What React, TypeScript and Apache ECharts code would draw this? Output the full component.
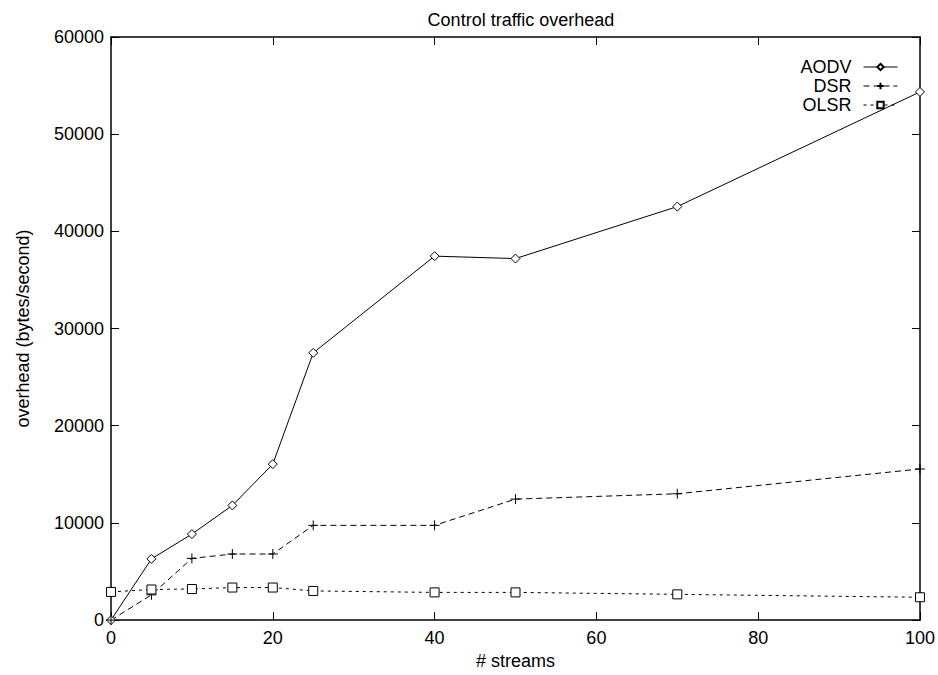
import React, { useEffect, useRef } from "react";
import * as echarts from "echarts";

const streams = [0, 5, 10, 15, 20, 25, 40, 50, 70, 100];
const aodv = [0, 6300, 8850, 11800, 16050, 27500, 37450, 37200, 42550, 54350];
const dsr = [0, 2600, 6350, 6800, 6800, 9750, 9750, 12450, 13000, 15550];
const olsr = [2900, 3150, 3200, 3350, 3350, 3000, 2850, 2850, 2650, 2350];
const seriesNames = ["AODV", "DSR", "OLSR"];
const titleText = "Control traffic overhead";
const xName = "# streams";
const yName = "overhead (bytes/second)";

const FONT = "'Liberation Sans', Arial, Helvetica, sans-serif";
const DIAMOND = "path://M5 0L10 5L5 10L0 5Z";
const PLUS = "path://M0 5L10 5M5 0L5 10";
const SQUARE = "path://M0 0L10 0L10 10L0 10Z";

export default function App() {
  const ref = useRef<HTMLDivElement>(null);
  useEffect(() => {
    if (!ref.current) return;
    const chart = echarts.init(ref.current, undefined, { renderer: "svg" });
    const pts = (ys: number[]) => streams.map((x, i) => [x, ys[i]]);
    const axisLine = { show: true, onZero: false, lineStyle: { color: "#000", width: 1.5 } };
    const tick = { show: true, inside: true, length: 8, lineStyle: { color: "#000", width: 1 } };
    const label = { color: "#000", fontSize: 18, fontFamily: FONT };
    const markStyle = { color: "#fff", borderColor: "#000", borderWidth: 1 };
    chart.setOption({
      animation: false,
      backgroundColor: "#fff",
      textStyle: { fontFamily: FONT },
      title: {
        text: titleText,
        left: 516,
        textAlign: "center",
        top: 6,
        textStyle: { fontSize: 18, fontWeight: "normal", color: "#000", fontFamily: FONT },
      },
      grid: { left: 111, right: 16, top: 37, bottom: 48, containLabel: false },
      legend: {
        orient: "vertical",
        align: "right",
        right: 35,
        top: 53,
        itemWidth: 34,
        itemHeight: 8,
        itemGap: 1,
        data: seriesNames,
        lineStyle: { width: 1 },
        textStyle: { fontSize: 18, color: "#000", fontFamily: FONT, lineHeight: 18, padding: [0, 7, 0, 0] },
      },
      xAxis: [
        {
          type: "value",
          min: 0,
          max: 100,
          interval: 20,
          name: xName,
          nameLocation: "middle",
          nameGap: 29,
          nameTextStyle: label,
          axisLine,
          axisTick: tick,
          axisLabel: { ...label, margin: 9 },
          splitLine: { show: false },
        },
        {
          type: "value",
          position: "top",
          min: 0,
          max: 100,
          interval: 20,
          axisLine,
          axisTick: tick,
          axisLabel: { show: false },
          splitLine: { show: false },
        },
      ],
      yAxis: [
        {
          type: "value",
          min: 0,
          max: 60000,
          interval: 10000,
          name: yName,
          nameLocation: "middle",
          nameGap: 79,
          nameRotate: 90,
          nameTextStyle: label,
          axisLine,
          axisTick: tick,
          axisLabel: { ...label, margin: 7, formatter: (v: number) => String(v) },
          splitLine: { show: false },
        },
        {
          type: "value",
          position: "right",
          min: 0,
          max: 60000,
          interval: 10000,
          axisLine,
          axisTick: tick,
          axisLabel: { show: false },
          splitLine: { show: false },
        },
      ],
      series: [
        {
          name: seriesNames[0],
          type: "line",
          data: pts(aodv),
          symbol: DIAMOND,
          symbolSize: 9,
          color: "#000",
          lineStyle: { color: "#000", width: 1, type: "solid" },
          itemStyle: markStyle,
        },
        {
          name: seriesNames[1],
          type: "line",
          data: pts(dsr),
          symbol: PLUS,
          symbolSize: 10,
          color: "#000",
          lineStyle: { color: "#000", width: 1, type: [6, 4] },
          itemStyle: { color: "none", borderColor: "#000", borderWidth: 1 },
        },
        {
          name: seriesNames[2],
          type: "line",
          data: pts(olsr),
          symbol: SQUARE,
          symbolSize: 9,
          color: "#000",
          lineStyle: { color: "#000", width: 1, type: [3, 4] },
          itemStyle: markStyle,
        },
      ],
    });
    return () => chart.dispose();
  }, []);
  return (
    <div
      ref={ref}
      style={{ position: "fixed", left: 0, top: 0, width: 938, height: 675, background: "#fff" }}
    />
  );
}
